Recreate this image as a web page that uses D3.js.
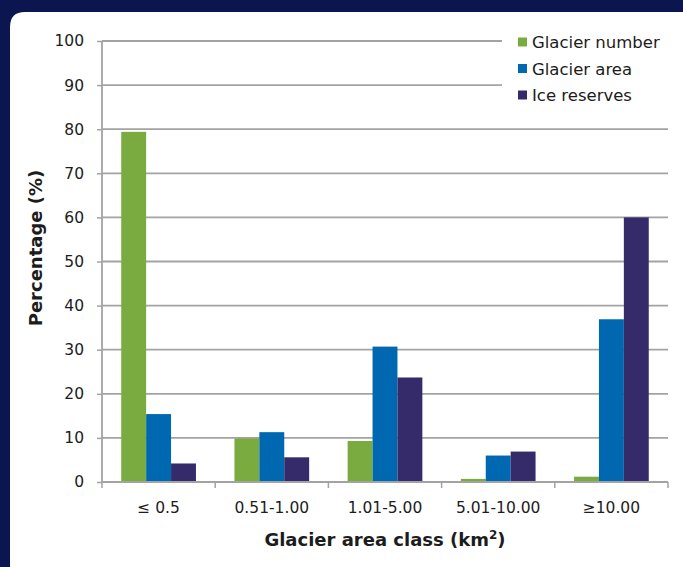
<!DOCTYPE html>
<html>
<head>
<meta charset="utf-8">
<script src="https://cdn.jsdelivr.net/npm/d3@7"></script>
<style>
  html, body { margin: 0; padding: 0; background: #0b1650; }
  svg { display: block; font-family: "DejaVu Sans", sans-serif; }
</style>
</head>
<body>
<script>
// data
var categories = ["≤ 0.5", "0.51-1.00", "1.01-5.00", "5.01-10.00", "≥10.00"];
var seriesNames = ["Glacier number", "Glacier area", "Ice reserves"];
var glacierNumber = [79.4, 9.9, 9.3, 0.7, 1.2];
var glacierArea = [15.4, 11.3, 30.7, 6.0, 36.9];
var iceReserves = [4.2, 5.6, 23.7, 6.9, 60.0];
var yTicks = [0, 10, 20, 30, 40, 50, 60, 70, 80, 90, 100];
var colors = ["#7aab41", "#0068b0", "#352b6b"];

var svgWidth = 683, svgHeight = 567;
var margin = { top: 41, right: 15, bottom: 85, left: 102 };
var chartwidth = svgWidth - margin.left - margin.right;
var chartheight = svgHeight - margin.top - margin.bottom;
var textColor = "#1c1c1c";

var svg = d3.select("body").append("svg")
  .attr("width", svgWidth)
  .attr("height", svgHeight);

// white panel with rounded top-left corner
svg.append("path")
  .attr("d", "M10,27 Q10,12 25,12 L683,12 L683,567 L10,567 Z")
  .attr("fill", "#ffffff");

var chartGroup = svg.append("g")
  .attr("transform", `translate(${margin.left}, ${margin.top})`);

var x0 = d3.scaleBand().domain(categories).range([0, chartwidth]).paddingInner(0.34).paddingOuter(0.17);
var x1 = d3.scaleBand().domain(seriesNames).range([0, x0.bandwidth()]);
var y = d3.scaleLinear().domain([0, 100]).range([chartheight, 0]);

// gridlines
chartGroup.append("g")
  .selectAll("line")
  .data(yTicks.slice(1))
  .enter()
  .append("line")
    .attr("x1", 0)
    .attr("x2", chartwidth)
    .attr("y1", d => y(d))
    .attr("y2", d => y(d))
    .attr("stroke", "#a3a3a3")
    .attr("stroke-width", 1.8);

// bars
var table = categories.map((c, i) => ({
  cat: c,
  values: [glacierNumber[i], glacierArea[i], iceReserves[i]]
}));

var groups = chartGroup.append("g")
  .selectAll("g")
  .data(table)
  .enter()
  .append("g")
    .attr("transform", d => `translate(${x0(d.cat)}, 0)`);

groups.selectAll("rect")
  .data(d => d.values.map((v, j) => ({ name: seriesNames[j], value: v, color: colors[j] })))
  .enter()
  .append("rect")
    .attr("x", d => x1(d.name))
    .attr("y", d => y(d.value))
    .attr("width", x1.bandwidth())
    .attr("height", d => chartheight - y(d.value))
    .attr("fill", d => d.color);

// Y axis
var yAxis = chartGroup.append("g")
  .call(d3.axisLeft(y).tickValues(yTicks).tickSize(5).tickPadding(13));
yAxis.selectAll("text").attr("font-size", "15.5px").attr("fill", textColor).attr("font-family", "DejaVu Sans, sans-serif");
yAxis.selectAll("line").attr("stroke", "#a3a3a3").attr("stroke-width", 1.5);
yAxis.select(".domain").attr("stroke", "#a3a3a3").attr("stroke-width", 1.8).attr("d", `M0,${y(100)}V${chartheight}`);

// X axis with boundary ticks
var xAxis = chartGroup.append("g")
  .attr("transform", `translate(0, ${chartheight})`)
  .call(d3.axisBottom(x0).tickSize(0).tickPadding(20));
xAxis.selectAll("text").attr("font-size", "15.5px").attr("fill", textColor).attr("font-family", "DejaVu Sans, sans-serif");
xAxis.select(".domain").attr("stroke", "#a3a3a3").attr("stroke-width", 1.8).attr("d", `M0,0H${chartwidth}`);
var step = x0.step();
xAxis.selectAll(".bound")
  .data(d3.range(categories.length + 1))
  .enter()
  .append("line")
    .attr("class", "bound")
    .attr("x1", i => x0(categories[0]) - x0.paddingOuter() * step + i * step)
    .attr("x2", i => x0(categories[0]) - x0.paddingOuter() * step + i * step)
    .attr("y1", 0)
    .attr("y2", 6)
    .attr("stroke", "#a3a3a3")
    .attr("stroke-width", 1.5);

// axis titles
svg.append("text")
  .attr("transform", "rotate(-90)")
  .attr("x", -248)
  .attr("y", 42)
  .attr("text-anchor", "middle")
  .attr("font-size", "18px")
  .attr("font-weight", "bold")
  .attr("fill", textColor)
  .text("Percentage (%)");

var xt = svg.append("text")
  .attr("x", margin.left + chartwidth / 2)
  .attr("y", 546)
  .attr("text-anchor", "middle")
  .attr("font-size", "18px")
  .attr("font-weight", "bold")
  .attr("fill", textColor);
xt.append("tspan").text("Glacier area class (km");
xt.append("tspan").attr("font-size", "12px").attr("dy", -7).text("2");
xt.append("tspan").attr("dy", 7).text(")");

// legend
var legend = svg.append("g").attr("transform", "translate(502, 28)");
legend.append("rect")
  .attr("x", 0).attr("y", 0)
  .attr("width", 175).attr("height", 82)
  .attr("fill", "#ffffff");
var items = legend.selectAll(".item")
  .data(seriesNames)
  .enter()
  .append("g")
    .attr("transform", (d, i) => `translate(16, ${14 + i * 26.5})`);
items.append("rect")
  .attr("x", 0).attr("y", -4.5)
  .attr("width", 9).attr("height", 9)
  .attr("fill", (d, i) => colors[i]);
items.append("text")
  .attr("x", 14)
  .attr("y", 6)
  .attr("font-size", "16.5px")
  .attr("fill", textColor)
  .text(d => d);
</script>
</body>
</html>
